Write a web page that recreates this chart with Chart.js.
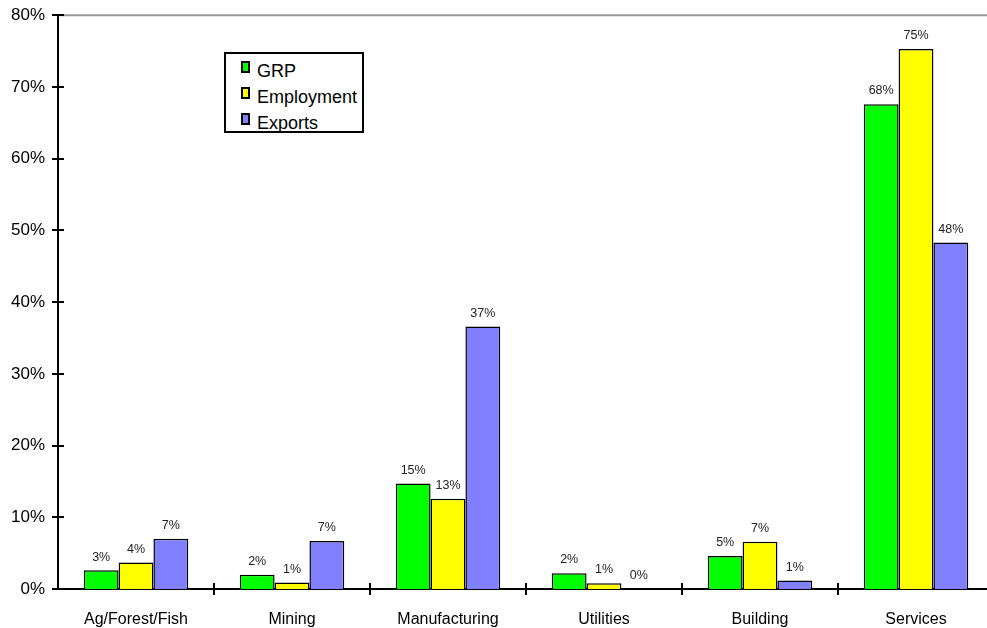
<!DOCTYPE html>
<html>
<head>
<meta charset="utf-8">
<script src="https://cdn.jsdelivr.net/npm/chart.js@4/dist/chart.umd.min.js"></script>
<style>
  html, body { margin: 0; padding: 0; background: #fff; overflow: hidden; }
  #wrap { position: relative; width: 1000px; height: 628px; }
  #legend {
    position: absolute; left: 224px; top: 52px; width: 140px; height: 81px;
    border: 2px solid #000; background: #fff; box-sizing: border-box;
    font-family: "Liberation Sans", Arial, sans-serif; font-size: 18px; color: #000;
  }
  #legend .item { position: absolute; left: 15px; height: 20px; line-height: 20px; white-space: nowrap; }
  #legend .sw { display: inline-block; width: 5px; height: 8px; border: 2px solid #000; margin-right: 7px; vertical-align: 4px; }
</style>
</head>
<body>
<div id="wrap">
  <canvas id="chart" width="1000" height="628"></canvas>
  <div id="legend"></div>
</div>
<script>
'use strict';

const categories = ['Ag/Forest/Fish', 'Mining', 'Manufacturing', 'Utilities', 'Building', 'Services'];
const grp        = [2.6, 2.0, 14.7, 2.2, 4.6, 67.6];
const employment = [3.7, 0.9, 12.6, 0.8, 6.6, 75.3];
const exportsPct = [7.0, 6.7, 36.6, 0.0, 1.2, 48.3];
const yTicks     = [0, 10, 20, 30, 40, 50, 60, 70, 80];

const seriesNames  = ['GRP', 'Employment', 'Exports'];
const seriesColors = ['#00ff00', '#ffff00', '#8080ff'];

const FONT = '"Liberation Sans", Arial, sans-serif';

// tick marks that cross the axis lines, the grey top line and value labels
const axisMarks = {
  id: 'axisMarks',
  afterDraw(chart) {
    const ctx = chart.ctx;
    const area = chart.chartArea;
    const x = chart.scales.x;
    const y = chart.scales.y;
    ctx.save();
    ctx.strokeStyle = '#999';
    ctx.lineWidth = 2;
    ctx.beginPath();
    ctx.moveTo(area.left, area.top);
    ctx.lineTo(area.right + 10, area.top);
    ctx.stroke();

    ctx.strokeStyle = '#000';
    ctx.lineWidth = 2;
    ctx.beginPath();
    for (const v of yTicks) {
      const py = Math.round(y.getPixelForValue(v));
      ctx.moveTo(area.left - 6, py);
      ctx.lineTo(area.left + 6, py);
    }
    for (let i = 1; i < categories.length; i++) {
      const px = Math.round((x.getPixelForValue(i - 1) + x.getPixelForValue(i)) / 2);
      ctx.moveTo(px, area.bottom - 6);
      ctx.lineTo(px, area.bottom + 6);
    }
    ctx.stroke();

    ctx.fillStyle = '#222';
    ctx.font = '12.5px ' + FONT;
    ctx.textAlign = 'center';
    ctx.textBaseline = 'bottom';
    chart.data.datasets.forEach((ds, di) => {
      chart.getDatasetMeta(di).data.forEach((bar, i) => {
        ctx.fillText(Math.round(ds.data[i]) + '%', bar.x, bar.y - 7);
      });
    });
    ctx.restore();
  }
};

const config = {
  type: 'bar',
  data: {
    labels: categories,
    datasets: [grp, employment, exportsPct].map((d, i) => ({
      label: seriesNames[i],
      data: d,
      backgroundColor: seriesColors[i],
      borderColor: '#000',
      borderWidth: 1.5,
      borderSkipped: 'bottom',
      categoryPercentage: 0.67,
      barPercentage: 1.0
    }))
  },
  options: {
    responsive: false,
    animation: false,
    layout: { padding: { top: 6, right: 6, left: 0, bottom: 0 } },
    plugins: { legend: { display: false }, tooltip: { enabled: false } },
    scales: {
      x: {
        grid: { display: false },
        border: { display: true, color: '#000', width: 2 },
        ticks: { color: '#000', font: { family: FONT, size: 16 }, padding: 13, maxRotation: 0 },
        afterFit(s) { s.height = 39; }
      },
      y: {
        min: 0, max: 80,
        afterBuildTicks(s) { s.ticks = yTicks.map(v => ({ value: v })); },
        grid: { display: false },
        border: { display: true, color: '#000', width: 2 },
        ticks: { color: '#000', font: { family: FONT, size: 17 }, padding: 5, callback: v => v + '%' },
        afterFit(s) { s.width = 58; }
      }
    }
  },
  plugins: [axisMarks]
};

new Chart(document.getElementById('chart').getContext('2d'), config);

const legend = document.getElementById('legend');
seriesNames.forEach((name, i) => {
  const item = document.createElement('div');
  item.className = 'item';
  item.style.top = (7 + i * 26) + 'px';
  item.innerHTML = '<span class="sw" style="background:' + seriesColors[i] + '"></span>' + name;
  legend.appendChild(item);
});
</script>
</body>
</html>
